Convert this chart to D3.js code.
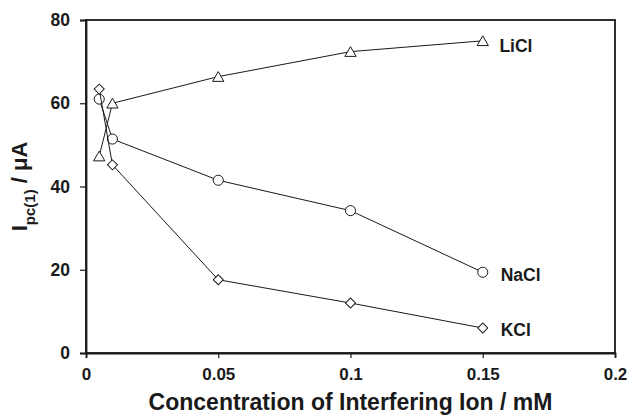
<!DOCTYPE html>
<html>
<head>
<meta charset="utf-8">
<script src="https://cdn.jsdelivr.net/npm/d3@7"></script>
<style>
  body { margin: 0; background: #fff; }
  text { font-family: "Liberation Sans", Arial, sans-serif; font-weight: bold; fill: #1a1a1a; }
</style>
</head>
<body>
<svg id="chart" width="630" height="416"></svg>
<script>
// concentrations (mM)
const conc = [0.005, 0.01, 0.05, 0.1, 0.15];
const liCl = [47.3, 60, 66.4, 72.4, 75];
const naCl = [61, 51.4, 41.5, 34.2, 19.4];
const kCl = [63.4, 45.2, 17.6, 12, 6];
const xTicks = [0, 0.05, 0.1, 0.15, 0.2];
const yTicks = [0, 20, 40, 60, 80];

const series = [
  { name: "LiCl", values: liCl, shape: "triangle" },
  { name: "NaCl", values: naCl, shape: "circle" },
  { name: "KCl", values: kCl, shape: "diamond" }
];

const margin = { left: 86, right: 15, top: 20, bottom: 63 };
const width = 630, height = 416;

const svg = d3.select("#chart");

let x = d3.scaleLinear().domain([0, 0.2]).range([margin.left, width - margin.right]);
let y = d3.scaleLinear().domain([0, 80]).range([height - margin.bottom, margin.top]);

// frame
svg.append("rect")
    .attr("x", x(0)).attr("y", y(80))
    .attr("width", x(0.2) - x(0)).attr("height", y(0) - y(80))
    .style("fill", "none").style("stroke", "#1a1a1a").style("stroke-width", 1.8);

// axes
let xAxis = svg.append("g")
    .attr("transform", "translate(0," + y(0) + ")")
    .call(d3.axisBottom(x).tickValues(xTicks).tickFormat(d3.format("")).tickSize(5).tickPadding(10));
let yAxis = svg.append("g")
    .attr("transform", "translate(" + x(0) + ",0)")
    .call(d3.axisLeft(y).tickValues(yTicks).tickSize(6).tickPadding(10));

[xAxis, yAxis].forEach(a => {
    a.select(".domain").style("stroke", "#1a1a1a").style("stroke-width", 1.8);
    a.selectAll(".tick line").style("stroke", "#1a1a1a").style("stroke-width", 1.2);
    a.selectAll(".tick text").style("font-family", "Liberation Sans, Arial, sans-serif").style("font-weight", "bold").style("fill", "#1a1a1a");
});
xAxis.selectAll(".tick text").style("font-size", "17px");
yAxis.selectAll(".tick text").style("font-size", "17.5px");

let line = d3.line()
    .x((d, i) => x(conc[i]))
    .y((d) => y(d));

// diamond = square turned by 45 degrees, so it is as wide as it is tall
let symbols = {
    triangle: { path: d3.symbol().type(d3.symbolTriangle).size(55), rot: 0, dy: 1.5 },
    circle: { path: d3.symbol().type(d3.symbolCircle).size(80), rot: 0, dy: 0 },
    diamond: { path: d3.symbol().type(d3.symbolSquare).size(50), rot: 45, dy: 0 }
};

series.forEach(s => {
    svg.append("path")
        .attr("d", line(s.values))
        .style("fill", "none")
        .style("stroke", "#1a1a1a")
        .style("stroke-width", 1);

    let sym = symbols[s.shape];
    svg.append("g")
        .selectAll("path")
        .data(s.values)
        .join("path")
        .attr("d", sym.path)
        .attr("transform", (d, i) => "translate(" + x(conc[i]) + "," + (y(d) + sym.dy) + ") rotate(" + sym.rot + ")")
        .style("fill", "#fff")
        .style("stroke", "#1a1a1a")
        .style("stroke-width", 1);
});

// series labels
const labelPos = [[0.1563, 73.9], [0.1568, 18.8], [0.1568, 5.6]];
series.forEach((s, i) => {
    svg.append("text")
        .attr("x", x(labelPos[i][0]))
        .attr("y", y(labelPos[i][1]))
        .attr("dy", "0.36em")
        .style("font-size", "17.5px")
        .text(s.name);
});

// x title
svg.append("text")
    .attr("x", (x(0) + x(0.2)) / 2)
    .attr("y", 410)
    .attr("text-anchor", "middle")
    .style("font-size", "23px")
    .text("Concentration of Interfering Ion / mM");

// y title
let yTitle = svg.append("text")
    .attr("transform", "translate(27," + ((y(0) + y(80)) / 2) + ") rotate(-90)")
    .attr("text-anchor", "middle")
    .style("font-size", "22px");
yTitle.append("tspan").text("I");
yTitle.append("tspan").attr("dy", 8).style("font-size", "15px").text("pc(1)");
yTitle.append("tspan").attr("dy", -8).text(" / \u03bcA");
</script>
</body>
</html>
